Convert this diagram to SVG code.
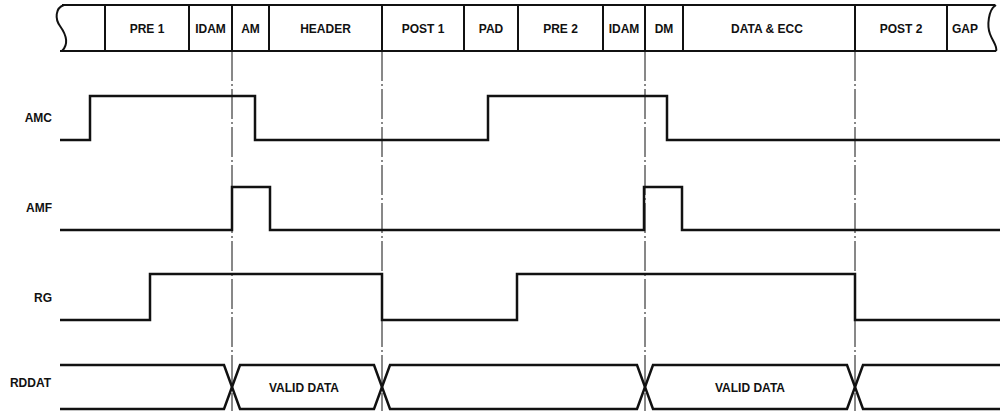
<svg xmlns="http://www.w3.org/2000/svg" width="1002" height="411" viewBox="0 0 1002 411">
<style>
.bar{fill:none;stroke:#111;stroke-width:2}
.sig{fill:none;stroke:#111;stroke-width:2.5;stroke-linejoin:miter}
.ref{fill:none;stroke:#111;stroke-width:1;stroke-dasharray:30 3 2 3}
.fld{font-family:"Liberation Sans",Arial,sans-serif;font-weight:bold;font-size:12px;fill:#111;text-anchor:middle}
.sn{font-family:"Liberation Sans",Arial,sans-serif;font-weight:bold;font-size:12px;fill:#111;text-anchor:end}
</style>
<rect width="1002" height="411" fill="#fff"/>
<g id="fieldbar">
<path class="bar" d="M62 5 H995 M60 51 H996"/>
<path class="bar" d="M64 5 C55 8 55 19 60 26 C65 33 70 43 62 51"/>
<path class="bar" d="M996 5 C988 10 987 26 990 34 C993 42 998 47 996 51"/>
<path class="bar" d="M105 5V51 M189 5V51 M232 5V51 M269 5V51 M382 5V51 M464 5V51 M518 5V51 M603 5V51 M645 5V51 M683 5V51 M855 5V51 M947 5V51"/>
<text class="fld" x="147" y="32.5">PRE 1</text>
<text class="fld" x="210.5" y="32.5">IDAM</text>
<text class="fld" x="250.5" y="32.5">AM</text>
<text class="fld" x="325.5" y="32.5">HEADER</text>
<text class="fld" x="423" y="32.5">POST 1</text>
<text class="fld" x="491" y="32.5">PAD</text>
<text class="fld" x="560.5" y="32.5">PRE 2</text>
<text class="fld" x="624" y="32.5">IDAM</text>
<text class="fld" x="664" y="32.5">DM</text>
<text class="fld" x="767" y="32.5">DATA &amp; ECC</text>
<text class="fld" x="901" y="32.5">POST 2</text>
<text class="fld" x="965" y="32.5">GAP</text>
</g>
<g id="connectors">
<path class="ref" d="M232 51V411"/>
<path class="ref" d="M382 51V411"/>
<path class="ref" d="M645 51V411"/>
<path class="ref" d="M855 51V411"/>
</g>
<g id="AMC">
<text class="sn" x="52" y="122">AMC</text>
<path class="sig" d="M60 140H90V96H255V140H488V96H667V140H1000"/>
</g>
<g id="AMF">
<text class="sn" x="52" y="212">AMF</text>
<path class="sig" d="M60 230H232V187H270V230H644V187H682V230H1000"/>
</g>
<g id="RG">
<text class="sn" x="52" y="302">RG</text>
<path class="sig" d="M60 320H150V274H382V320H517V274H855V320H1000"/>
</g>
<g id="RDDAT">
<text class="sn" x="51" y="387">RDDAT</text>
<path class="sig" d="M60 365H224L240 409H374L390 365H637L653 409H847L863 365H1000"/>
<path class="sig" d="M60 409H224L240 365H374L390 409H637L653 365H847L863 409H1000"/>
<text class="fld" x="304" y="391.5">VALID DATA</text>
<text class="fld" x="750" y="391.5">VALID DATA</text>
</g>
</svg>
